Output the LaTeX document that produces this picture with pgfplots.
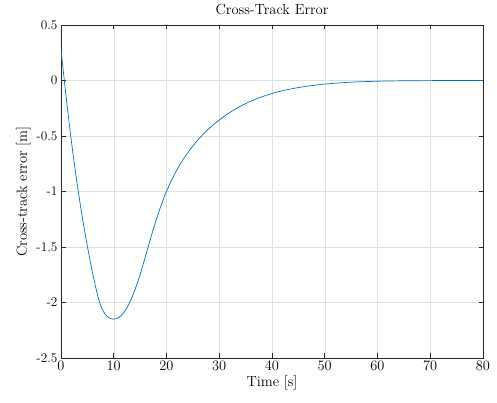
\documentclass[border=0pt]{standalone}
\usepackage{pgfplots}
\pgfplotsset{compat=1.18}
\definecolor{mblue}{rgb}{0,0.447,0.741}
\definecolor{axgray}{rgb}{0.15,0.15,0.15}
\definecolor{gridgray}{rgb}{0.88,0.88,0.88}
\begin{document}
\begin{tikzpicture}[x=1pt,y=1pt]
\begin{axis}[
  name=ax,
  at={(61pt,45pt)}, anchor=south west,
  width=422pt, height=333pt, scale only axis,
  xmin=0, xmax=80, ymin=-2.5, ymax=0.5,
  xtick={0,10,...,80},
  ytick={-2.5,-2,...,0.5},
  yticklabels={-2.5,-2,-1.5,-1,-0.5,0,0.5},
  xticklabel style={font=\fontsize{13.3}{15}\selectfont},
  yticklabel style={font=\fontsize{13.3}{15}\selectfont},
  grid=major,
  major grid style={gridgray, line width=0.5pt},
  axis line style={axgray, line width=0.6pt},
  tick style={axgray, line width=0.6pt},
  tick align=inside,
  major tick length=4.5pt,
  xlabel={Time [s]},
  ylabel={Cross-track error [m]},
  title={Cross-Track Error},
  label style={font=\fontsize{14.6}{16}\selectfont},
  title style={font=\fontsize{14.6}{16}\selectfont, at={(0.5,1)}, anchor=south, yshift=1pt},
  xlabel style={yshift=2pt},
  ylabel style={yshift=-1pt},
]
\addplot[mblue, line width=0.7pt, smooth, tension=0.5] coordinates {
(0,0.277) (0.5,0.057) (1,-0.158) (1.5,-0.363) (2,-0.558) (2.5,-0.7405) (3,-0.9105)
(3.5,-1.0705) (4,-1.2205) (4.5,-1.3605) (5,-1.493) (5.5,-1.618) (6,-1.738)
(6.5,-1.8455) (7,-1.9455) (7.5,-2.023) (8,-2.078) (8.5,-2.113) (9,-2.1355)
(9.5,-2.1465) (10,-2.150) (10.5,-2.146) (11,-2.1335) (11.5,-2.113) (12,-2.084)
(12.5,-2.047) (13,-2.0015) (13.5,-1.948) (14,-1.888) (14.5,-1.8205) (15,-1.748)
(15.5,-1.668) (16,-1.5855) (16.5,-1.502) (17,-1.4195) (17.5,-1.3395) (18,-1.263)
(18.5,-1.1905) (19,-1.122) (19.5,-1.0575) (20,-0.997) (21,-0.894) (22,-0.803)
(23,-0.723) (24,-0.653) (25,-0.590) (26,-0.533) (27,-0.482) (28,-0.436) (29,-0.394)
(30,-0.356) (32,-0.288) (34,-0.232) (36,-0.186) (38,-0.148) (40,-0.117) (42,-0.092)
(45,-0.0635) (48,-0.043) (50,-0.032) (55,-0.015) (60,-0.0065) (65,-0.0025)
(70,-0.001) (75,-0.0003) (80,0)
};
\end{axis}
\pgfresetboundingbox
\path (0,0) rectangle (497,403);
\end{tikzpicture}
\end{document}
